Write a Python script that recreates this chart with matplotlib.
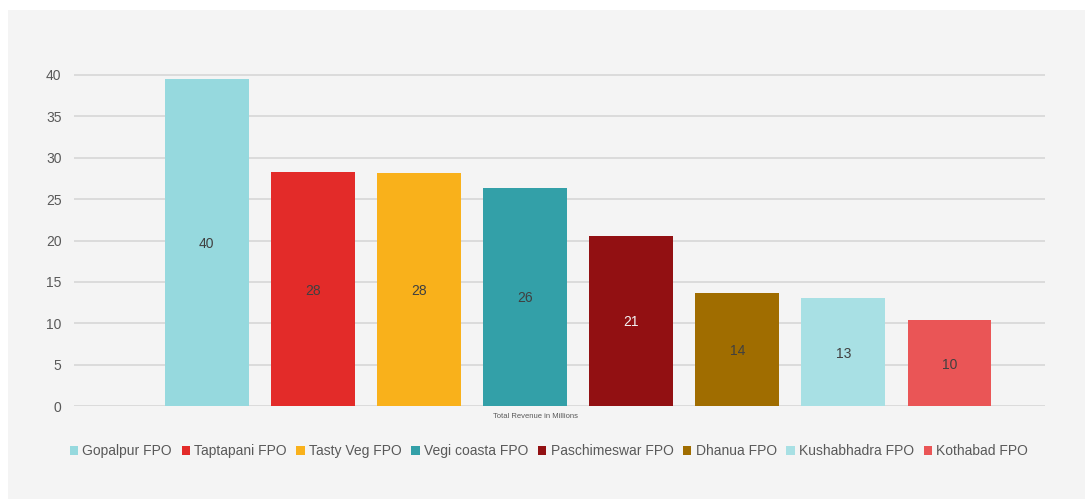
import matplotlib
matplotlib.use("Agg")
import matplotlib.pyplot as plt
from matplotlib.patches import Rectangle, Patch

series = ["Gopalpur FPO", "Taptapani FPO", "Tasty Veg FPO", "Vegi coasta FPO",
          "Paschimeswar FPO", "Dhanua FPO", "Kushabhadra FPO", "Kothabad FPO"]
values = [39.5, 28.3, 28.1, 26.4, 20.6, 13.6, 13.0, 10.4]
labels = ["40", "28", "28", "26", "21", "14", "13", "10"]
colors = ["#96d9de", "#e32b29", "#f9b11b", "#33a0a8", "#921012", "#a06d00", "#a8e0e4", "#ea5556"]
label_colors = ["#404040", "#404040", "#404040", "#404040", "#f2f2f2", "#404040", "#404040", "#404040"]
category = "Total Revenue in Millions"
yticks = [0, 5, 10, 15, 20, 25, 30, 35, 40]

plt.rcParams['font.family'] = ['Liberation Sans', 'DejaVu Sans']
W, H = 1087, 499
fig = plt.figure(figsize=(W/100, H/100), dpi=100)
fig.patch.set_facecolor("white")
fig.patches.append(Rectangle((8/W, 0), (1085-8)/W, (499-10)/H, transform=fig.transFigure,
                             facecolor="#f4f4f4", edgecolor="none", zorder=-10))

ymax = 41
px_per_unit = (406-75)/40
top_px = 406 - ymax*px_per_unit
ax = fig.add_axes([74/W, 1-406/H, (1045-74)/W, (406-top_px)/H])
ax.set_facecolor("none")
ax.set_zorder(1)

x = list(range(len(series)))
for i in x:
    ax.bar(i, values[i], width=0.79, color=colors[i], zorder=3, label=series[i])
    ax.text(i, values[i]/2 - 0.2, labels[i], ha="center", va="center", fontsize=10,
            color=label_colors[i], zorder=4)

ax.set_xlim(-1.25, 7.9)
ax.set_ylim(0, ymax)
ax.set_yticks(yticks)
ax.set_yticklabels([str(v) for v in yticks])
ax.grid(axis="y", color="#d9d9d9", linewidth=1.3, zorder=0)
ax.set_axisbelow(True)
ax.set_xticks([])
for s in ax.spines.values():
    s.set_visible(False)
ax.tick_params(axis="y", length=0, labelsize=10, labelcolor="#595959", pad=9)

ax.text(3.1, -1.3, category, ha="center", va="center", fontsize=5.5, color="#595959")

handles = [Patch(facecolor=c, edgecolor="none") for c in colors]
fig.legend(handles, series, loc="center", bbox_to_anchor=(549/W, 1-451/H), ncol=8,
           frameon=False, fontsize=10, labelcolor="#595959", handlelength=0.6, handleheight=0.6,
           handletextpad=0.3, columnspacing=0.7)

fig.savefig("out.png", dpi=100, facecolor="white")
